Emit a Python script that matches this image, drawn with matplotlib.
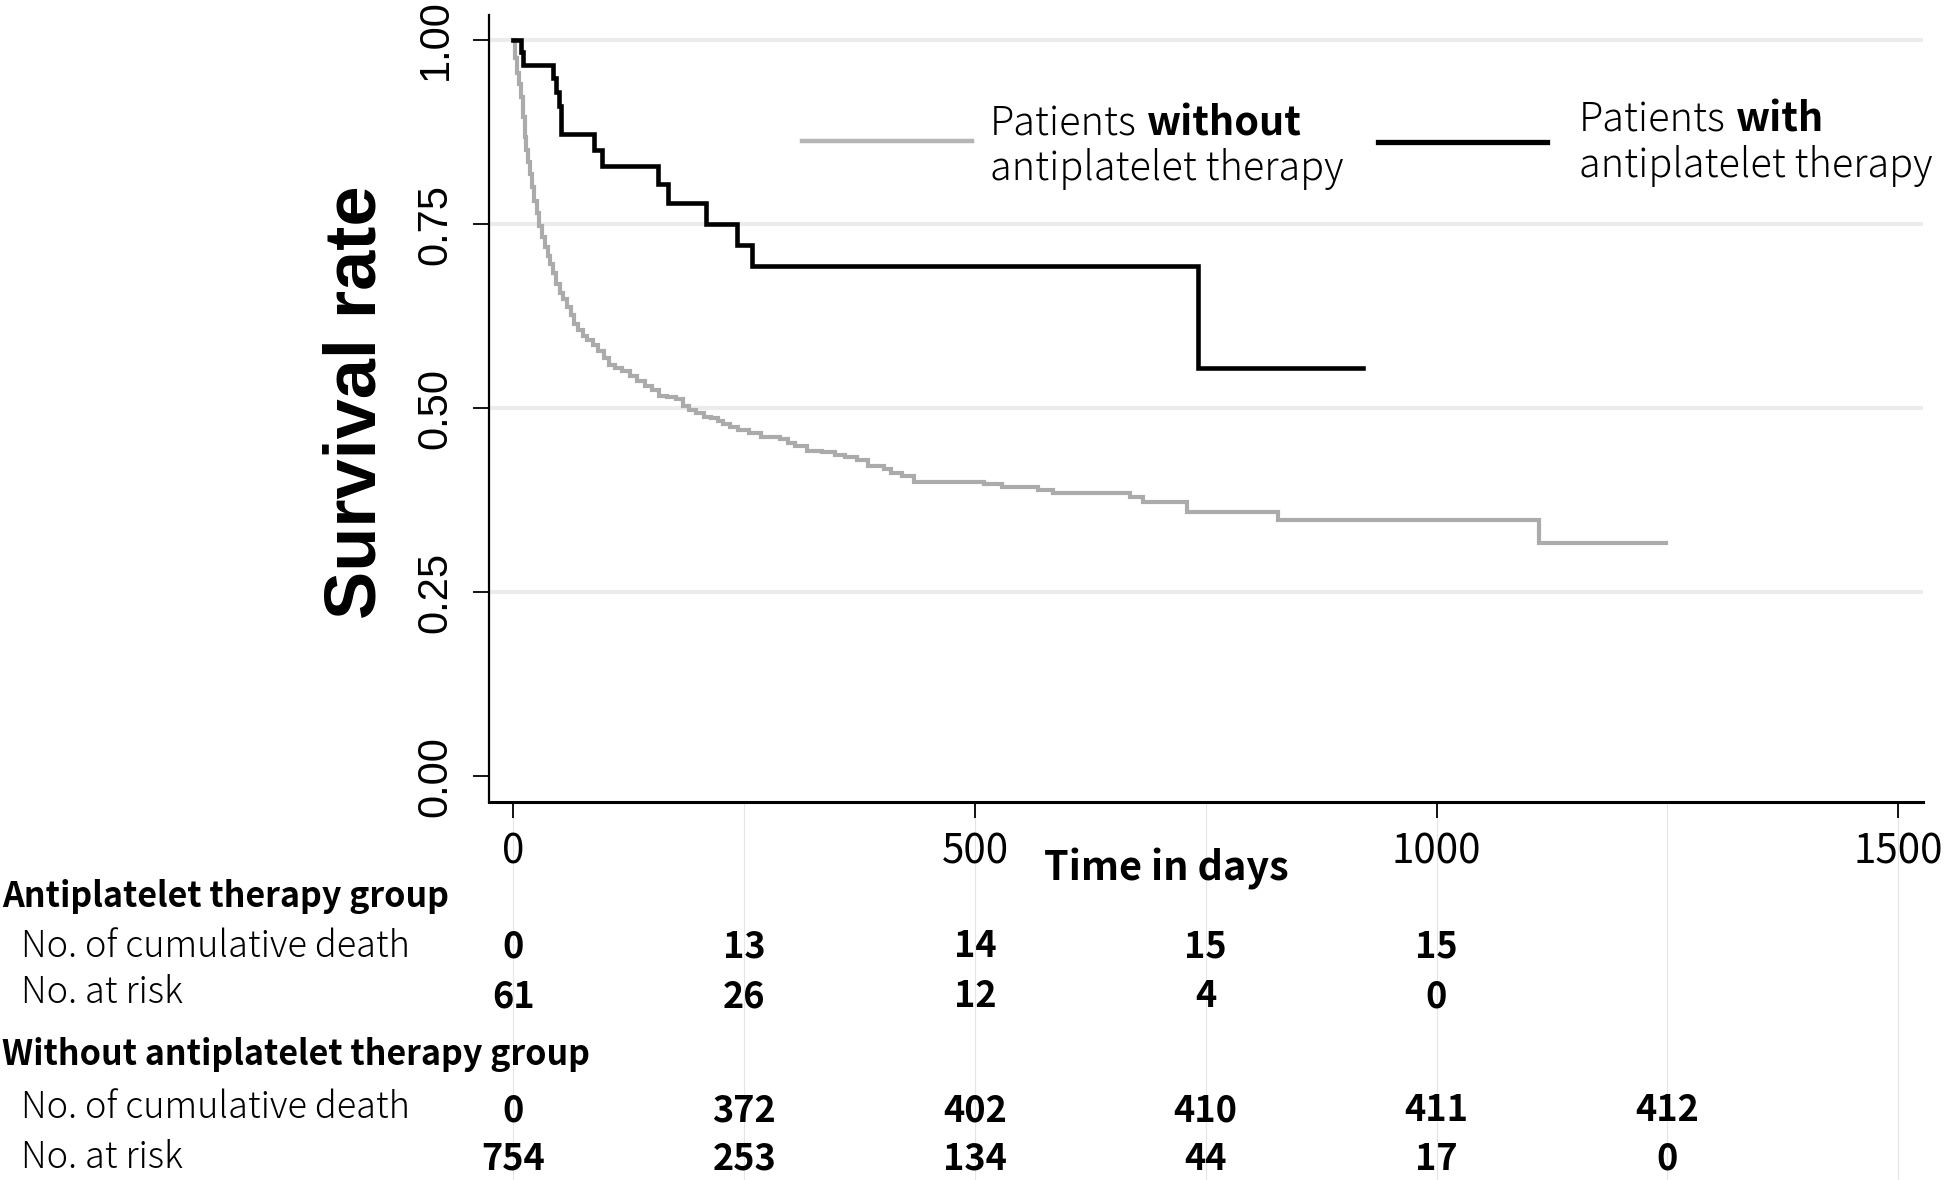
import matplotlib
matplotlib.use('Agg')
import matplotlib.pyplot as plt
from matplotlib import font_manager
import matplotlib.transforms as mtransforms
from matplotlib.lines import Line2D

# ---------------- data ----------------
gray_t = [0, 2, 4, 6, 8, 10, 12, 14, 16, 18, 20, 22, 25, 28, 31, 34, 37, 40, 43, 46,
          50, 54, 58, 62, 66, 70, 75, 80, 86, 92, 98, 104, 110, 118, 126, 134, 142, 150,
          158, 166, 176, 184, 190, 198, 206, 214, 222, 227, 235, 243, 255, 268, 289, 297,
          305, 318, 334, 348, 359, 372, 384, 401, 409, 421, 434, 510, 529, 568, 585, 668,
          682, 730, 828, 1111, 1249]
gray_s = [1.0, 0.975, 0.955, 0.94, 0.922, 0.895, 0.868, 0.85, 0.835, 0.818, 0.80, 0.782,
          0.765, 0.748, 0.733, 0.719, 0.707, 0.696, 0.684, 0.668, 0.657, 0.648, 0.637,
          0.627, 0.614, 0.606, 0.598, 0.593, 0.586, 0.578, 0.568, 0.558, 0.555, 0.551,
          0.544, 0.537, 0.530, 0.524, 0.517, 0.515, 0.512, 0.503, 0.497, 0.493, 0.488,
          0.486, 0.483, 0.478, 0.474, 0.470, 0.466, 0.461, 0.458, 0.452, 0.448, 0.442,
          0.441, 0.437, 0.434, 0.429, 0.421, 0.418, 0.412, 0.408, 0.400, 0.397, 0.393,
          0.389, 0.385, 0.3795, 0.373, 0.359, 0.348, 0.317, 0.317]

black_t = [0, 8, 10, 43, 46, 49, 52, 87, 96, 157, 167, 209, 242, 258, 742, 920]
black_s = [1.0, 0.984, 0.966, 0.948, 0.930, 0.910, 0.872, 0.851, 0.829, 0.804, 0.779,
           0.750, 0.722, 0.693, 0.554, 0.554]

table_times = [0, 250, 500, 750, 1000, 1250]
anti_deaths = [0, 13, 14, 15, 15]
anti_risk = [61, 26, 12, 4, 0]
non_deaths = [0, 372, 402, 410, 411, 412]
non_risk = [754, 253, 134, 44, 17, 0]

yticks = [0.0, 0.25, 0.50, 0.75, 1.00]
ytick_labels = ['0.00', '0.25', '0.50', '0.75', '1.00']
xticks = [0, 500, 1000, 1500]
xtick_labels = ['0', '500', '1000', '1500']

# ---------------- fonts ----------------
avail = {f.name for f in font_manager.fontManager.ttflist}
def pick(*names):
    for n in names:
        if n in avail:
            return n
    return 'DejaVu Sans'
NARROW = pick('Liberation Sans Narrow', 'Liberation Sans', 'DejaVu Sans')
JP = pick('Noto Sans CJK JP', 'Noto Sans', 'DejaVu Sans')

W, H = 1946, 1180
fig = plt.figure(figsize=(W / 100, H / 100), dpi=100)
def fx(px): return px / W
def fy(py): return 1 - py / H

ax = fig.add_axes([fx(488.5), fy(802), (1923 - 488.5) / W, (802 - 15) / H])
ax.set_xlim(-27, 1527)
ax.set_ylim(-0.035, 1.034)

for g in [0.25, 0.5, 0.75, 1.0]:
    ax.axhline(g, color='#ececec', lw=3, zorder=0)

ax.plot(gray_t, gray_s, drawstyle='steps-post', color='#ababab', lw=3.0, zorder=2,
        solid_joinstyle='miter')
ax.plot(black_t, black_s, drawstyle='steps-post', color='black', lw=3.3, zorder=3,
        solid_joinstyle='miter')

for s in ['top', 'right']:
    ax.spines[s].set_visible(False)
ax.spines['left'].set_linewidth(1.6)
ax.spines['bottom'].set_linewidth(2.2)

ax.set_yticks(yticks)
ax.set_yticklabels(ytick_labels, rotation=90, va='center', family=NARROW, fontsize=30)
ax.set_xticks(xticks)
ax.set_xticklabels(xtick_labels, family=JP, fontsize=29)
ax.tick_params(axis='y', length=11.5, width=1.3, pad=12)
ax.tick_params(axis='x', length=11.5, width=1.3, pad=10)

# y label
fig.text(fx(356), fy(402), 'Survival rate', rotation=90, ha='center', va='center',
         family=NARROW, fontsize=52, fontweight='bold')
# x label
fig.text(fx(1166), fy(880), 'Time in days', ha='center', va='baseline', family=JP,
         fontsize=28.5, fontweight='bold')

# legend
renderer = fig.canvas.get_renderer()
LEG = 28.5
def two_part(x, y, normal, bold, size):
    t1 = fig.text(fx(x), fy(y), normal, ha='left', va='baseline', family=JP,
                  fontsize=size, fontweight='light')
    bb = t1.get_window_extent(renderer=renderer)
    fig.text(bb.x1 / W + fx(10), fy(y), bold, ha='left', va='baseline', family=JP,
             fontsize=size, fontweight='bold')

fig.add_artist(Line2D([fx(802), fx(972)], [fy(141), fy(141)], color='#b5b5b5', lw=3.2))
two_part(990, 135, 'Patients', 'without', LEG)
fig.text(fx(990), fy(180), 'antiplatelet therapy', ha='left', va='baseline', family=JP,
         fontsize=LEG, fontweight='light')
fig.add_artist(Line2D([fx(1378), fx(1547)], [fy(141.5), fy(141.5)], color='black', lw=3.8))
two_part(1579, 131.7, 'Patients', 'with', LEG)
fig.text(fx(1579), fy(176.7), 'antiplatelet therapy', ha='left', va='baseline', family=JP,
         fontsize=LEG, fontweight='light')

# risk table
blend = mtransforms.blended_transform_factory(ax.transData, fig.transFigure)
for t in [0, 250, 500, 750, 1000, 1250, 1500]:
    fig.add_artist(Line2D([t, t], [fy(803), 0], transform=blend, color='#e4e4e4',
                          lw=0.8, zorder=0))

HDR = 24.5
fig.text(fx(2), fy(907), 'Antiplatelet therapy group', ha='left', va='baseline',
         family=JP, fontsize=HDR, fontweight='bold')
fig.text(fx(21), fy(957), 'No. of cumulative death', ha='left', va='baseline',
         family=JP, fontsize=26, fontweight='light')
fig.text(fx(21), fy(1003), 'No. at risk', ha='left', va='baseline',
         family=JP, fontsize=26, fontweight='light')
fig.text(fx(2), fy(1065), 'Without antiplatelet therapy group', ha='left', va='baseline',
         family=JP, fontsize=HDR, fontweight='bold')
fig.text(fx(21), fy(1118), 'No. of cumulative death', ha='left', va='baseline',
         family=JP, fontsize=26, fontweight='light')
fig.text(fx(21), fy(1168), 'No. at risk', ha='left', va='baseline',
         family=JP, fontsize=26, fontweight='light')

def row(values, py):
    for t, v in zip(table_times, values):
        ax.text(t, fy(py), str(v), transform=blend, ha='center', va='baseline',
                family=JP, fontsize=26, fontweight='bold', clip_on=False)

row(anti_deaths, 957)
row(anti_risk, 1007)
row(non_deaths, 1121)
row(non_risk, 1170)

fig.savefig('out.png', dpi=100)
